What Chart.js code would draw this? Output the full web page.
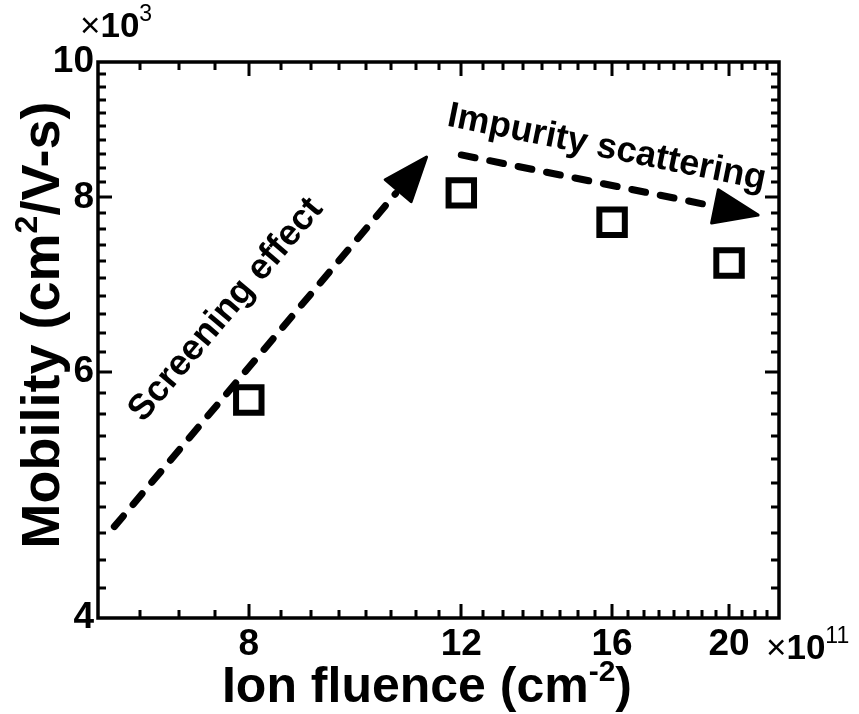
<!DOCTYPE html>
<html>
<head>
<meta charset="utf-8">
<script src="https://cdn.jsdelivr.net/npm/chart.js@4.4.0/dist/chart.umd.min.js"></script>
<style>
  html, body { margin: 0; padding: 0; background: #fff; }
  #wrap { width: 859px; height: 714px; position: relative; }
</style>
</head>
<body>
<div id="wrap"><canvas id="c" width="859" height="714"></canvas></div>
<script>
// ---- data ----
const fluence = [8, 12, 16, 20];              // x 10^11 cm^-2
const mobility = [5730, 8060, 7680, 7180];    // cm^2/V-s
const xTickLabels = [8, 12, 16, 20];
const yTickLabels = [4000, 6000, 8000, 10000];
const xRange = [6, 22];
const yRange = [4000, 10000];
const xMinorStep = 0.5;
const yMinorStep = 200;
// annotation arrows in data coordinates [start, tip]
const screeningArrow = [[6.19, 4650], [11.23, 8550]];
const impurityArrow = [[12.0, 8580], [21.14, 7770]];
const screeningLabel = { text: 'Screening effect', at: [7.66, 6646] };
const impurityLabel = { text: 'Impurity scattering', at: [15.84, 8680] };

const FONT = "'Liberation Sans', Arial, Helvetica, sans-serif";

function richWidth(ctx, parts) {
  let w = 0;
  for (const p of parts) { ctx.font = p.font; w += ctx.measureText(p.t).width; }
  return w;
}
function drawRich(ctx, parts, x, y, align) {
  const w = richWidth(ctx, parts);
  let cx = align === 'center' ? x - w / 2 : (align === 'right' ? x - w : x);
  ctx.textBaseline = 'alphabetic';
  ctx.textAlign = 'left';
  for (const p of parts) {
    ctx.font = p.font;
    ctx.fillText(p.t, cx, y + (p.dy || 0));
    cx += ctx.measureText(p.t).width;
  }
}

function drawArrow(ctx, xs, ys, arrow) {
  const x0 = xs.getPixelForValue(arrow[0][0]), y0 = ys.getPixelForValue(arrow[0][1]);
  const x1 = xs.getPixelForValue(arrow[1][0]), y1 = ys.getPixelForValue(arrow[1][1]);
  const dx = x1 - x0, dy = y1 - y0, L = Math.hypot(dx, dy);
  const ux = dx / L, uy = dy / L, nx = -uy, ny = ux;
  const headLen = 44, headHalf = 17;
  ctx.save();
  ctx.strokeStyle = '#000';
  ctx.lineWidth = 7;
  ctx.lineCap = 'round';
  ctx.setLineDash([14, 15]);
  ctx.beginPath();
  ctx.moveTo(x0, y0);
  ctx.lineTo(x1 - ux * (headLen + 4), y1 - uy * (headLen + 4));
  ctx.stroke();
  ctx.setLineDash([]);
  const bx = x1 - ux * headLen, by = y1 - uy * headLen;
  ctx.fillStyle = '#000';
  ctx.lineJoin = 'round';
  ctx.lineWidth = 3;
  ctx.beginPath();
  ctx.moveTo(x1, y1);
  ctx.lineTo(bx + nx * headHalf, by + ny * headHalf);
  ctx.lineTo(bx - nx * headHalf, by - ny * headHalf);
  ctx.closePath();
  ctx.fill();
  ctx.stroke();
  ctx.restore();
}

const framePlugin = {
  id: 'frame',
  afterDraw(chart) {
    const ctx = chart.ctx;
    const xs = chart.scales.x, ys = chart.scales.y;
    const a = chart.chartArea;
    ctx.save();
    ctx.strokeStyle = '#000';
    ctx.fillStyle = '#000';
    // ticks (inward, on all four sides)
    ctx.lineWidth = 3;
    ctx.lineCap = 'butt';
    const majLen = 14, minLen = 8;
    for (let v = xRange[0] + xMinorStep; v < xRange[1] - 1e-9; v += xMinorStep) {
      const px = Math.round(xs.getPixelForValue(v));
      const len = xTickLabels.some(t => Math.abs(t - v) < 1e-9) ? majLen : minLen;
      ctx.beginPath();
      ctx.moveTo(px, a.bottom); ctx.lineTo(px, a.bottom - len);
      ctx.moveTo(px, a.top); ctx.lineTo(px, a.top + len);
      ctx.stroke();
    }
    for (let v = yRange[0] + yMinorStep; v < yRange[1] - 1e-6; v += yMinorStep) {
      const py = Math.round(ys.getPixelForValue(v));
      const len = yTickLabels.some(t => Math.abs(t - v) < 1e-6) ? majLen : minLen;
      ctx.beginPath();
      ctx.moveTo(a.left, py); ctx.lineTo(a.left + len, py);
      ctx.moveTo(a.right, py); ctx.lineTo(a.right - len, py);
      ctx.stroke();
    }
    // frame
    ctx.lineWidth = 3.5;
    ctx.strokeRect(a.left, a.top, a.right - a.left, a.bottom - a.top);

    // arrows
    drawArrow(ctx, xs, ys, screeningArrow);
    drawArrow(ctx, xs, ys, impurityArrow);

    // annotation labels
    const annoFont = 'bold 36px ' + FONT;
    [[screeningLabel, screeningArrow], [impurityLabel, impurityArrow]].forEach(([lab, arr]) => {
      const x0 = xs.getPixelForValue(arr[0][0]), y0 = ys.getPixelForValue(arr[0][1]);
      const x1 = xs.getPixelForValue(arr[1][0]), y1 = ys.getPixelForValue(arr[1][1]);
      const ang = Math.atan2(y1 - y0, x1 - x0);
      const cx = xs.getPixelForValue(lab.at[0]), cy = ys.getPixelForValue(lab.at[1]);
      ctx.save();
      ctx.translate(cx, cy);
      ctx.rotate(ang);
      ctx.font = annoFont;
      ctx.textAlign = 'center';
      ctx.textBaseline = 'middle';
      ctx.fillText(lab.text, 0, 0);
      ctx.restore();
    });

    // axis titles
    const tf = 'bold 50px ' + FONT, ts = 'bold 30px ' + FONT;
    drawRich(ctx, [
      { t: 'Ion fluence (cm', font: tf },
      { t: '-2', font: ts, dy: -21 },
      { t: ')', font: tf }
    ], 427, 702, 'center');
    const yf = 'bold 54px ' + FONT, ysf = 'bold 32px ' + FONT;
    ctx.save();
    ctx.translate(59, 325);
    ctx.rotate(-Math.PI / 2);
    drawRich(ctx, [
      { t: 'Mobility (cm', font: yf },
      { t: '2', font: ysf, dy: -22 },
      { t: '/V-s)', font: yf }
    ], 0, 0, 'center');
    ctx.restore();

    // multipliers
    const mf = '35px ' + FONT, mb = 'bold 35px ' + FONT, ms = '23px ' + FONT;
    drawRich(ctx, [
      { t: '\u00d7', font: mf },
      { t: '10', font: mb },
      { t: '3', font: ms, dy: -16 }
    ], 80, 37, 'left');
    drawRich(ctx, [
      { t: '\u00d7', font: mf },
      { t: '10', font: mb },
      { t: '11', font: ms, dy: -16 }
    ], 766, 659, 'left');
    ctx.restore();
  }
};

new Chart(document.getElementById('c'), {
  type: 'scatter',
  data: {
    datasets: [{
      data: fluence.map((x, i) => ({ x: x, y: mobility[i] })),
      pointStyle: 'rect',
      pointRadius: 18,
      pointHoverRadius: 18,
      pointBorderWidth: 6,
      pointHoverBorderWidth: 6,
      borderColor: '#000',
      backgroundColor: '#fff',
      showLine: false
    }]
  },
  options: {
    responsive: false,
    animation: false,
    events: [],
    layout: { padding: { top: 62, right: 80, left: 0, bottom: 0 } },
    plugins: { legend: { display: false }, tooltip: { enabled: false } },
    scales: {
      x: {
        type: 'logarithmic',
        min: xRange[0], max: xRange[1],
        grid: { display: false, drawTicks: false },
        border: { display: false },
        afterBuildTicks: s => { s.ticks = xTickLabels.map(v => ({ value: v })); },
        afterFit: s => { s.height = 96; },
        ticks: {
          autoSkip: false, maxRotation: 0, padding: 5,
          color: '#000',
          font: { family: FONT, size: 37, weight: 'bold' },
          callback: v => String(v)
        }
      },
      y: {
        type: 'logarithmic',
        min: yRange[0], max: yRange[1],
        grid: { display: false, drawTicks: false },
        border: { display: false },
        afterBuildTicks: s => { s.ticks = yTickLabels.map(v => ({ value: v })); },
        afterFit: s => { s.width = 98; },
        ticks: {
          autoSkip: false, padding: 4,
          color: '#000',
          font: { family: FONT, size: 37, weight: 'bold' },
          callback: v => String(v / 1000)
        }
      }
    }
  },
  plugins: [framePlugin]
});
</script>
</body>
</html>
